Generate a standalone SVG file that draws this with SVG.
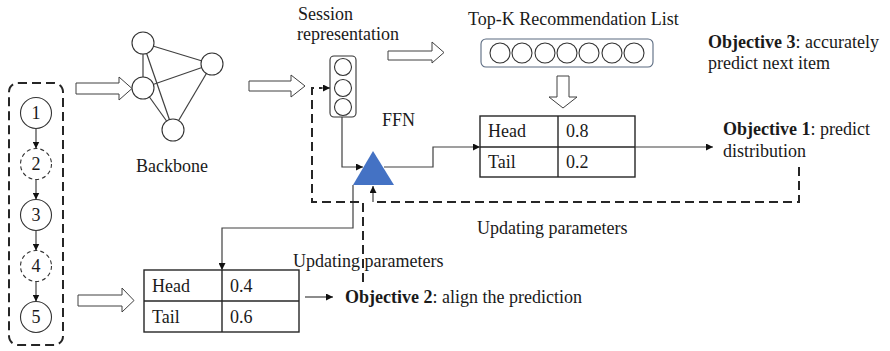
<svg xmlns="http://www.w3.org/2000/svg" width="890" height="351" viewBox="0 0 890 351">
<style>
text{font-family:"Liberation Serif","Times New Roman",serif;font-size:18px;fill:#1a1a1a}
.b{font-weight:bold}
.ln{fill:none;stroke:#404040;stroke-width:1.2}
.dash{fill:none;stroke:#262626;stroke-width:2;stroke-dasharray:9,5}
.hol{fill:#fff;stroke:#404040;stroke-width:1}
.nd{fill:#fff;stroke:#333;stroke-width:1.1}
.ndd{fill:#fff;stroke:#333;stroke-width:1.1;stroke-dasharray:4,3}
.tb{fill:#fff;stroke:#262626;stroke-width:1.4}
.tl{stroke:#262626;stroke-width:1.4}
</style>
<defs>
<marker id="ah" viewBox="0 0 10 10" refX="10" refY="5" markerWidth="7" markerHeight="7" markerUnits="userSpaceOnUse" orient="auto">
<path d="M0,0 L10,5 L0,10 z" fill="#111"/>
</marker>
</defs>

<g id="session-sequence">
<rect x="9" y="83" width="54" height="262" rx="9" class="dash"/>
<g id="s1"><circle cx="36" cy="113" r="15.5" class="nd"/><text x="36" y="119" text-anchor="middle">1</text></g>
<g id="s2"><circle cx="36" cy="164" r="15.5" class="ndd"/><text x="36" y="170" text-anchor="middle">2</text></g>
<g id="s3"><circle cx="36" cy="215" r="15.5" class="nd"/><text x="36" y="221" text-anchor="middle">3</text></g>
<g id="s4"><circle cx="36" cy="266" r="15.5" class="ndd"/><text x="36" y="272" text-anchor="middle">4</text></g>
<g id="s5"><circle cx="36" cy="317" r="15.5" class="nd"/><text x="36" y="323" text-anchor="middle">5</text></g>
</g>

<g id="backbone">
<g class="ln">
<line x1="143" y1="43" x2="212" y2="64"/>
<line x1="143" y1="43" x2="143" y2="88"/>
<line x1="143" y1="43" x2="173" y2="130"/>
<line x1="143" y1="88" x2="212" y2="64"/>
<line x1="143" y1="88" x2="173" y2="130"/>
<line x1="212" y1="64" x2="173" y2="130"/>
</g>
<circle cx="143" cy="43" r="11" class="nd"/>
<circle cx="212" cy="64" r="11" class="nd"/>
<circle cx="143" cy="88" r="11" class="nd"/>
<circle cx="173" cy="130" r="11" class="nd"/>
<text x="172" y="172" text-anchor="middle">Backbone</text>
</g>

<g id="session-representation">
<text x="298" y="20">Session</text>
<text x="297" y="40">representation</text>
<rect x="330" y="56" width="26" height="61" rx="4" class="nd"/>
<circle cx="343" cy="67" r="8.5" class="nd"/>
<circle cx="343" cy="88" r="8.5" class="nd"/>
<circle cx="343" cy="107" r="8.5" class="nd"/>
</g>

<g id="topk">
<text x="468" y="25">Top-K Recommendation List</text>
<rect x="481" y="39" width="172" height="28" rx="5" fill="#fff" stroke="#5a6a80" stroke-width="1.1"/>
<circle cx="500" cy="53" r="10" class="nd"/>
<circle cx="522" cy="53" r="10" class="nd"/>
<circle cx="545" cy="53" r="10" class="nd"/>
<circle cx="567" cy="53" r="10" class="nd"/>
<circle cx="589" cy="53" r="10" class="nd"/>
<circle cx="612" cy="53" r="10" class="nd"/>
<circle cx="634" cy="53" r="10" class="nd"/>
</g>

<g id="ffn">
<text x="382" y="126">FFN</text>
<polygon points="373,151 394,185 353,185" fill="#4472C4"/>
</g>

<g id="table-top">
<rect x="480" y="116" width="155" height="61" class="tb"/>
<line x1="558" y1="116" x2="558" y2="177" class="tl"/>
<line x1="480" y1="147" x2="635" y2="147" class="tl"/>
<text x="488" y="137">Head</text><text x="566" y="137">0.8</text>
<text x="488" y="168">Tail</text><text x="566" y="168">0.2</text>
</g>

<g id="table-bottom">
<rect x="144" y="270" width="155" height="62" class="tb"/>
<line x1="222" y1="270" x2="222" y2="332" class="tl"/>
<line x1="144" y1="301" x2="299" y2="301" class="tl"/>
<text x="152" y="292">Head</text><text x="230" y="292">0.4</text>
<text x="152" y="323">Tail</text><text x="230" y="323">0.6</text>
</g>

<g id="objectives">
<text x="708" y="48"><tspan class="b">Objective 3</tspan>: accurately</text>
<text x="708" y="69">predict next item</text>
<text x="723" y="135"><tspan class="b">Objective 1</tspan>: predict</text>
<text x="723" y="157">distribution</text>
<text x="345" y="303"><tspan class="b">Objective 2</tspan>: align the prediction</text>
</g>

<g id="labels">
<text x="477" y="234">Updating parameters</text>
<text x="293" y="267">Updating parameters</text>
</g>

<g id="connectors">
<polygon class="hol" points="76,83 119,83 119,77 132,88.5 119,100 119,94 76,94"/>
<polygon class="hol" points="249,81 291,81 291,75 305,86 291,97 291,91 249,91"/>
<polygon class="hol" points="388,51 432,51 432,42 444,52.5 432,63 432,60 388,60"/>
<polygon class="hol" points="557,76 569,76 569,97 577,97 563,108 549,97 557,97"/>
<polygon class="hol" points="78,295 122,295 122,288 134,300.5 122,312 122,306 78,306"/>

<line x1="36" y1="128.5" x2="36" y2="148.5" class="ln" marker-end="url(#ah)"/>
<line x1="36" y1="179.5" x2="36" y2="199.5" class="ln" marker-end="url(#ah)"/>
<line x1="36" y1="230.5" x2="36" y2="250.5" class="ln" marker-end="url(#ah)"/>
<line x1="36" y1="281.5" x2="36" y2="301.5" class="ln" marker-end="url(#ah)"/>

<path class="ln" d="M342,117 V167 H363" marker-end="url(#ah)"/>
<path class="ln" d="M384,167 H433 V147 H480" marker-end="url(#ah)"/>
<path class="ln" d="M635,147 H713" marker-end="url(#ah)"/>
<path class="ln" d="M353,185 V228 H222 V270" marker-end="url(#ah)"/>
<path class="ln" d="M305,297 H333" marker-end="url(#ah)"/>

<path class="dash" d="M799,167 V202 H373"/>
<path class="ln" d="M373,202 V186" marker-end="url(#ah)"/>
<path class="dash" d="M363,282 V202 H312 V88 H322"/>
<path class="ln" d="M321,88 H330" marker-end="url(#ah)"/>
</g>
</svg>
